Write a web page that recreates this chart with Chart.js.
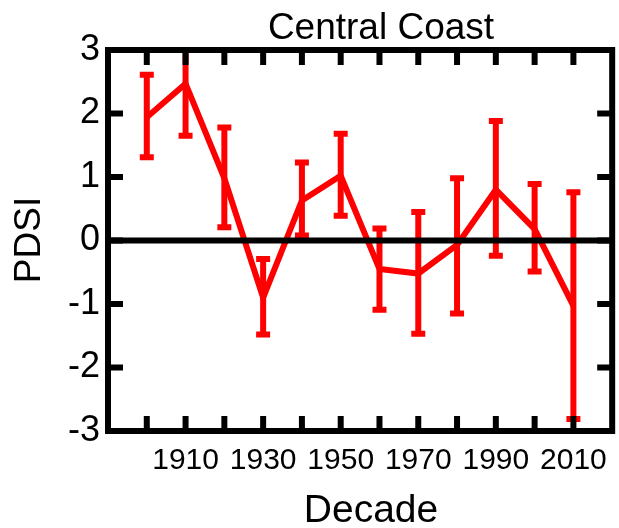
<!DOCTYPE html>
<html>
<head>
<meta charset="utf-8">
<script src="https://cdn.jsdelivr.net/npm/chart.js@4.4.1/dist/chart.umd.min.js"></script>
<style>
  html, body { margin: 0; padding: 0; background: #fff; }
  #wrap { width: 619px; height: 528px; }
</style>
</head>
<body>
<div id="wrap"><canvas id="pdsiChart" width="619" height="528"></canvas></div>
<script>
// Données (PDSI moyen par décennie, barres d'erreur)
const decades = [1900, 1910, 1920, 1930, 1940, 1950, 1960, 1970, 1980, 1990, 2000, 2010];
const pdsiMean = [1.94, 2.47, 0.98, -0.90, 0.63, 1.02, -0.45, -0.52, -0.07, 0.80, 0.18, -1.03];
const pdsiLow = [1.31, 1.65, 0.21, -1.48, 0.08, 0.39, -1.09, -1.47, -1.15, -0.24, -0.49, -2.81];
const pdsiHigh = [2.61, 3.30, 1.78, -0.29, 1.23, 1.68, 0.19, 0.45, 0.98, 1.88, 0.89, 0.76];
const xTickLabels = [1910, 1930, 1950, 1970, 1990, 2010];
const xMinorTicks = [1900, 1910, 1920, 1930, 1940, 1950, 1960, 1970, 1980, 1990, 2000, 2010];
const yTickLabels = [-3, -2, -1, 0, 1, 2, 3];

const fontFamily = '"Liberation Sans", Arial, Helvetica, sans-serif';
const red = '#ff0000';

// Plugin : barres d'erreur, cadre, graduations intérieures et titres
const framePlugin = {
    id: 'frame',
    afterDatasetsDraw(chart) {
        const ctx = chart.ctx;
        const xs = chart.scales.x;
        const ys = chart.scales.y;
        const area = chart.chartArea;
        ctx.save();
        ctx.beginPath();
        ctx.rect(area.left, area.top, area.right - area.left, area.bottom - area.top);
        ctx.clip();
        ctx.strokeStyle = red;
        ctx.lineWidth = 6;
        ctx.lineCap = 'butt';
        decades.forEach((d, i) => {
            const x = xs.getPixelForValue(d);
            const yLo = ys.getPixelForValue(pdsiLow[i]);
            const yHi = ys.getPixelForValue(pdsiHigh[i]);
            ctx.beginPath();
            ctx.moveTo(x, yLo);
            ctx.lineTo(x, yHi);
            ctx.moveTo(x - 7, yLo);
            ctx.lineTo(x + 7, yLo);
            ctx.moveTo(x - 7, yHi);
            ctx.lineTo(x + 7, yHi);
            ctx.stroke();
        });
        ctx.restore();
    },
    afterDraw(chart) {
        const ctx = chart.ctx;
        const xs = chart.scales.x;
        const ys = chart.scales.y;
        const area = chart.chartArea;
        const tickLen = 15;
        ctx.save();
        ctx.strokeStyle = '#000';
        ctx.lineWidth = 6;

        // Ligne du zéro
        const y0 = ys.getPixelForValue(0);
        ctx.beginPath();
        ctx.moveTo(area.left, y0);
        ctx.lineTo(area.right, y0);
        ctx.stroke();

        // Graduations intérieures
        ctx.beginPath();
        xMinorTicks.forEach(v => {
            const x = xs.getPixelForValue(v);
            ctx.moveTo(x, area.bottom);
            ctx.lineTo(x, area.bottom - tickLen);
            ctx.moveTo(x, area.top);
            ctx.lineTo(x, area.top + tickLen);
        });
        yTickLabels.forEach(v => {
            const y = ys.getPixelForValue(v);
            ctx.moveTo(area.left, y);
            ctx.lineTo(area.left + tickLen, y);
            ctx.moveTo(area.right, y);
            ctx.lineTo(area.right - tickLen, y);
        });
        ctx.stroke();

        // Cadre
        ctx.lineJoin = 'miter';
        ctx.strokeRect(area.left, area.top, area.right - area.left, area.bottom - area.top);

        // Titres
        ctx.fillStyle = '#000';
        ctx.textAlign = 'center';
        ctx.textBaseline = 'alphabetic';
        ctx.font = '37px ' + fontFamily;
        ctx.fillText('Central Coast', 381, 39);
        ctx.font = '39px ' + fontFamily;
        ctx.fillText('Decade', 371, 522);
        ctx.translate(40, 240);
        ctx.rotate(-Math.PI / 2);
        ctx.font = '37px ' + fontFamily;
        ctx.fillText('PDSI', 0, 0);
        ctx.restore();
    }
};

new Chart(document.getElementById('pdsiChart'), {
    type: 'line',
    data: {
        datasets: [{
            data: decades.map((d, i) => ({ x: d, y: pdsiMean[i] })),
            borderColor: red,
            borderWidth: 6,
            pointRadius: 0,
            tension: 0,
            fill: false
        }]
    },
    options: {
        responsive: false,
        animation: false,
        layout: { padding: { top: 50, right: 3, left: 0, bottom: 0 } },
        plugins: {
            legend: { display: false },
            tooltip: { enabled: false },
            title: { display: false }
        },
        scales: {
            x: {
                type: 'linear',
                min: 1890,
                max: 2020,
                grid: { display: false, drawTicks: false },
                border: { display: false },
                afterBuildTicks(scale) {
                    scale.ticks = xTickLabels.map(v => ({ value: v }));
                },
                afterFit(scale) { scale.height = 97; },
                ticks: {
                    autoSkip: false,
                    maxRotation: 0,
                    padding: 12,
                    color: '#000',
                    font: { family: fontFamily, size: 30 },
                    callback: v => String(v)
                }
            },
            y: {
                min: -3,
                max: 3,
                grid: { display: false, drawTicks: false },
                border: { display: false },
                afterBuildTicks(scale) {
                    scale.ticks = yTickLabels.map(v => ({ value: v }));
                },
                afterFit(scale) { scale.width = 108; },
                ticks: {
                    padding: 8,
                    color: '#000',
                    font: { family: fontFamily, size: 36 },
                    callback: v => String(v)
                }
            }
        }
    },
    plugins: [framePlugin]
});
</script>
</body>
</html>
